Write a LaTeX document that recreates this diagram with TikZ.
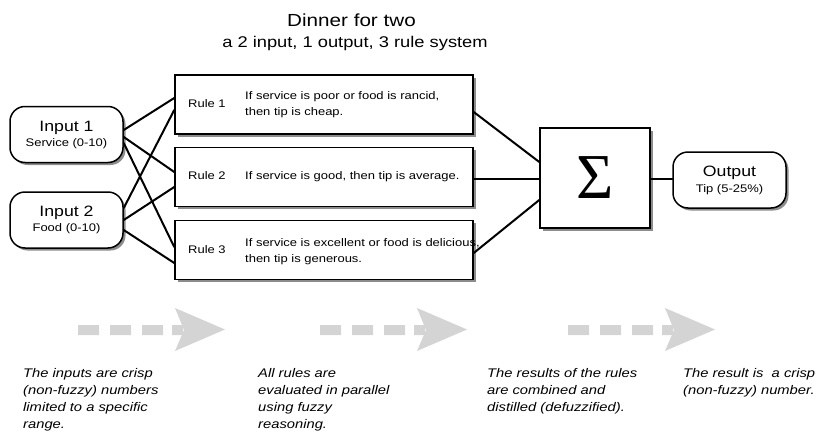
\documentclass[tikz,border=0pt]{standalone}
\usepackage{fontspec}
\setmainfont[FakeStretch=1.18]{Liberation Sans}
\newfontfamily\sigmafont{Liberation Serif}
\usetikzlibrary{shadows}
\definecolor{arrgray}{HTML}{D4D4D4}
\begin{document}
\begin{tikzpicture}[x=1pt,y=-1pt,
  box/.style={draw=black,line width=1.5pt,fill=white,
    drop shadow={shadow xshift=2.5pt,shadow yshift=-2.5pt,fill=black!45,opacity=1},inner sep=0pt},
  inbox/.style={box,rounded corners=15pt,minimum width=113pt,minimum height=56pt,
    align=center,font=\fontsize{11}{15}\selectfont},
  outbox/.style={box,rounded corners=15pt,minimum width=113pt,minimum height=56pt,
    align=center,font=\fontsize{11}{16}\selectfont},
  rulebox/.style={box,minimum width=298pt,minimum height=59pt},
  sigbox/.style={box,minimum width=110pt,minimum height=100pt},
  rlab/.style={anchor=base west,inner sep=0pt,font=\fontsize{11}{16}\selectfont},
  rtxt/.style={anchor=west,inner sep=0pt,align=left,font=\fontsize{11}{16}\selectfont},
  rtxtone/.style={anchor=base west,inner sep=0pt,font=\fontsize{11}{16}\selectfont},
  conn/.style={line width=2pt,line cap=round},
  note/.style={anchor=north west,inner sep=0pt,align=left,font=\itshape\fontsize{12.5}{17}\selectfont},
  garrow/.pic={
    \fill[arrgray] (0,325) rectangle (21,335) (32,325) rectangle (53,335)
      (64,325) rectangle (85,335) (94,325) rectangle (105,335);
    \fill[arrgray] (97,308) -- (147,329.5) -- (97,351) -- (106,330) -- cycle;
  }
]
\useasboundingbox (0,0) rectangle (821,436);

% titles
\node[anchor=base,inner sep=0pt,font=\fontsize{17.5}{20}\selectfont] (title) at (351.5,27) {Dinner for two};
\node[anchor=base,inner sep=0pt,font=\fontsize{15.5}{18}\selectfont] (subtitle) at (355,48) {a 2 input, 1 output, 3 rule system};

% boxes
\node[inbox] (in1) at (66.5,134.5) {{\fontsize{15}{15}\selectfont Input 1}\\Service (0-10)};
\node[inbox] (in2) at (66.5,220) {{\fontsize{15}{15}\selectfont Input 2}\\Food (0-10)};
\node[rulebox] (r1) at (324,104.5) {};
\node[rulebox] (r2) at (324,177) {};
\node[rulebox] (r3) at (324,250) {};
\node[sigbox] (sig) at (595,178) {\sigmafont\fontsize{64}{64}\selectfont Σ};
\node[outbox] (out) at (729.5,180) {{\fontsize{15}{15}\selectfont Output}\\Tip (5-25\%)};

% connectors
\draw[conn] ([yshift=4.5pt]in1.east) -- ([yshift=6.5pt]r1.west);
\draw[conn] ([yshift=-2.5pt]in1.east) -- ([yshift=5pt]r2.west);
\draw[conn] ([yshift=-8.5pt]in1.east) -- ([yshift=3pt]r3.west);
\draw[conn] ([yshift=12pt]in2.east) -- ([yshift=-5.5pt]r1.west);
\draw[conn] (in2.east) -- ([yshift=-10pt]r2.west);
\draw[conn] ([yshift=-10pt]in2.east) -- ([yshift=-13pt]r3.west);

\draw[conn] ([yshift=-7.5pt]r1.east) -- ([yshift=16pt]sig.west);
\draw[conn] ([yshift=-2pt]r2.east) -- ([yshift=-2pt]r2.east -| sig.west);
\draw[conn] ([yshift=-3pt]r3.east) -- ([yshift=-22pt]sig.west);
\draw[conn] ([yshift=-1pt]sig.east) -- ([yshift=-1pt]sig.east -| out.west);

% rule texts
\node[rlab] (r1lab) at (188,107) {Rule 1};
\node[rtxt] (r1txt) at (245,105) {If service is poor or food is rancid,\\then tip is cheap.};
\node[rlab] (r2lab) at (188,179) {Rule 2};
\node[rtxtone] (r2txt) at (245,179) {If service is good, then tip is average.};
\node[rlab] (r3lab) at (188,253) {Rule 3};
\node[rtxt] (r3txt) at (245,252) {If service is excellent or food is delicious,\\then tip is generous.};

% gray process arrows
\pic at (78,0) {garrow};
\pic at (320,0) {garrow};
\pic at (568,0) {garrow};

% notes
\node[note] (n1) at (23,368) {The inputs are crisp\\(non-fuzzy) numbers\\limited to a specific\\range.};
\node[note] (n2) at (258,368) {All rules are\\evaluated in parallel\\using fuzzy\\reasoning.};
\node[note] (n3) at (487,368) {The results of the rules\\are combined and\\distilled (defuzzified).};
\node[note] (n4) at (683,368) {The result is\ \ a crisp\\(non-fuzzy) number.};
\end{tikzpicture}
\end{document}
